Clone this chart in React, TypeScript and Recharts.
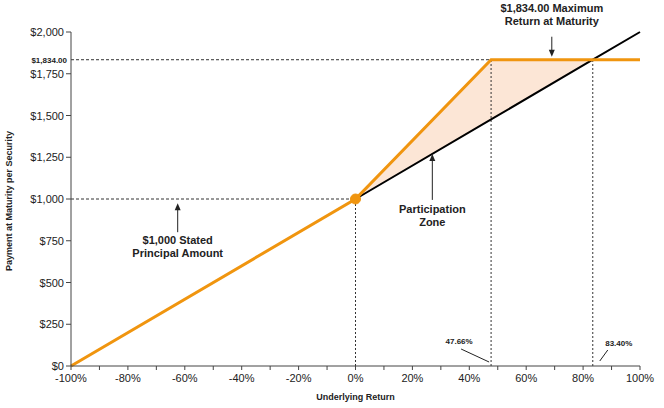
import {
  ComposedChart,
  Line,
  Area,
  XAxis,
  YAxis,
  ReferenceLine,
  ReferenceDot,
} from 'recharts';

// underlying return (%) at each break point of the payoff
const returns = [-100, 0, 47.66, 83.4, 100];
// payment at maturity per security ($)
const payoff = [0, 1000, 1834, 1834, 1834];
const underlying = [null, 1000, 1476.6, 1834, 2000];
// participation zone: between the underlying line and the payoff line
const zoneLow = [null, 1000, 1476.6, 1834, null];
const zoneHigh = [null, 1000, 1834, 1834, null];

const xTicks = [-100, -90, -80, -70, -60, -50, -40, -30, -20, -10, 0, 10, 20, 30, 40, 50, 60, 70, 80, 90, 100];
const yTicks = [0, 250, 500, 750, 1000, 1250, 1500, 1750, 2000];

const maxReturn = 1834;
const capReturn = 47.66;
const breakEven = 83.4;

const ORANGE = '#F0950F';
const FILL = '#FCE6D6';
const FONT = '"Liberation Sans", Arial, sans-serif';

const data = returns.map((x, i) => ({
  x,
  payoff: payoff[i],
  underlying: underlying[i],
  zone: zoneLow[i] == null ? null : [zoneLow[i], zoneHigh[i]],
}));

const fmtMoney = (v: number) => `$${v.toLocaleString('en-US')}`;

function XTick({ x, y, payload }: any) {
  if (payload.value % 20 !== 0) return null;
  return (
    <text x={x} y={y + 10} textAnchor="middle" fontSize={11} fill="#222" fontFamily={FONT}>
      {`${payload.value}%`}
    </text>
  );
}

function YTick({ x, y, payload }: any) {
  return (
    <text x={x} y={y + 4} textAnchor="end" fontSize={11} fill="#222" fontFamily={FONT}>
      {fmtMoney(payload.value)}
    </text>
  );
}

function Note({ cx, cy, lines, dir, len, gap }: any) {
  // arrow from text towards (cx, cy); dir = -1 arrow points up, 1 points down
  const tip = cy;
  const tail = cy - dir * len;
  const head = dir === -1 ? `${cx - 3},${tip + 7} ${cx + 3},${tip + 7} ${cx},${tip}` : `${cx - 3},${tip - 7} ${cx + 3},${tip - 7} ${cx},${tip}`;
  const textY = dir === -1 ? tail + gap : tail - gap - (lines.length - 1) * 13;
  return (
    <g>
      <line x1={cx} y1={tail} x2={cx} y2={tip + (dir === -1 ? 6 : -6)} stroke="#222" strokeWidth={1} />
      <polygon points={head} fill="#222" />
      {lines.map((t: string, i: number) => (
        <text key={t} x={cx} y={textY + i * 13} textAnchor="middle" fontSize={11} fontWeight="bold" fill="#222" fontFamily={FONT}>
          {t}
        </text>
      ))}
    </g>
  );
}

export default function App() {
  return (
    <div style={{ position: 'absolute', left: 0, top: 0, width: 664, height: 408, background: '#fff' }}>
      <ComposedChart width={664} height={408} data={data} margin={{ top: 32, right: 24, bottom: 0, left: 0 }}>
        <XAxis
          dataKey="x"
          type="number"
          domain={[-100, 100]}
          ticks={xTicks}
          interval={0}
          tick={<XTick />}
          tickSize={4}
          height={42}
          stroke="#444"
          label={{ value: 'Underlying Return', position: 'insideBottom', offset: 8, fontSize: 9, fontWeight: 'bold', fill: '#222', fontFamily: FONT }}
        />
        <YAxis
          type="number"
          domain={[0, 2000]}
          ticks={yTicks}
          interval={0}
          tick={<YTick />}
          tickSize={5}
          width={71}
          stroke="#444"
          label={{ value: 'Payment at Maturity per Security', angle: -90, position: 'insideLeft', offset: 9, dy: 72, fontSize: 9, fontWeight: 'bold', fill: '#222', fontFamily: FONT }}
        />
        <Area dataKey="zone" type="linear" fill={FILL} fillOpacity={1} stroke="none" isAnimationActive={false} connectNulls />
        <ReferenceLine segment={[{ x: -100, y: 1000 }, { x: 0, y: 1000 }]} stroke="#333" strokeDasharray="3 2" />
        <ReferenceLine segment={[{ x: -100, y: maxReturn }, { x: capReturn, y: maxReturn }]} stroke="#333" strokeDasharray="3 2" />
        <ReferenceLine segment={[{ x: 0, y: 0 }, { x: 0, y: 1000 }]} stroke="#333" strokeDasharray="2 2" />
        <ReferenceLine segment={[{ x: capReturn, y: 0 }, { x: capReturn, y: maxReturn }]} stroke="#333" strokeDasharray="2 2" />
        <ReferenceLine segment={[{ x: breakEven, y: 0 }, { x: breakEven, y: maxReturn }]} stroke="#333" strokeDasharray="2 2" />
        <Line dataKey="underlying" type="linear" stroke="#000" strokeWidth={2} dot={false} isAnimationActive={false} connectNulls />
        <Line dataKey="payoff" type="linear" stroke={ORANGE} strokeWidth={3} dot={false} isAnimationActive={false} />
        <ReferenceDot x={0} y={1000} r={5} fill={ORANGE} stroke={ORANGE} />
        <ReferenceDot
          x={-100}
          y={maxReturn}
          ifOverflow="visible"
          shape={(p: any) => (
            <text x={p.cx - 4} y={p.cy + 3} textAnchor="end" fontSize={8} fontWeight="bold" fill="#222" fontFamily={FONT}>
              $1,834.00
            </text>
          )}
        />
        <ReferenceDot
          x={69}
          y={maxReturn}
          ifOverflow="visible"
          shape={(p: any) => <Note cx={p.cx} cy={p.cy - 3} dir={1} len={20} gap={12} lines={['$1,834.00 Maximum', 'Return at Maturity']} />}
        />
        <ReferenceDot
          x={27}
          y={1270}
          ifOverflow="visible"
          shape={(p: any) => <Note cx={p.cx} cy={p.cy} dir={-1} len={46} gap={13} lines={['Participation', 'Zone']} />}
        />
        <ReferenceDot
          x={-62.5}
          y={975}
          ifOverflow="visible"
          shape={(p: any) => <Note cx={p.cx} cy={p.cy} dir={-1} len={29} gap={12} lines={['$1,000 Stated', 'Principal Amount']} />}
        />
        <ReferenceDot
          x={capReturn}
          y={0}
          ifOverflow="visible"
          shape={(p: any) => (
            <g>
              <line x1={p.cx - 2} y1={p.cy - 4} x2={p.cx - 30} y2={p.cy - 17} stroke="#222" strokeWidth={1} />
              <text x={p.cx - 32} y={p.cy - 22} textAnchor="middle" fontSize={8} fontWeight="bold" fill="#222" fontFamily={FONT}>
                47.66%
              </text>
            </g>
          )}
        />
        <ReferenceDot
          x={breakEven}
          y={0}
          ifOverflow="visible"
          shape={(p: any) => (
            <g>
              <line x1={p.cx + 7} y1={p.cy - 5} x2={p.cx + 15} y2={p.cy - 16} stroke="#222" strokeWidth={1} />
              <text x={p.cx + 26} y={p.cy - 20} textAnchor="middle" fontSize={8} fontWeight="bold" fill="#222" fontFamily={FONT}>
                83.40%
              </text>
            </g>
          )}
        />
      </ComposedChart>
    </div>
  );
}
